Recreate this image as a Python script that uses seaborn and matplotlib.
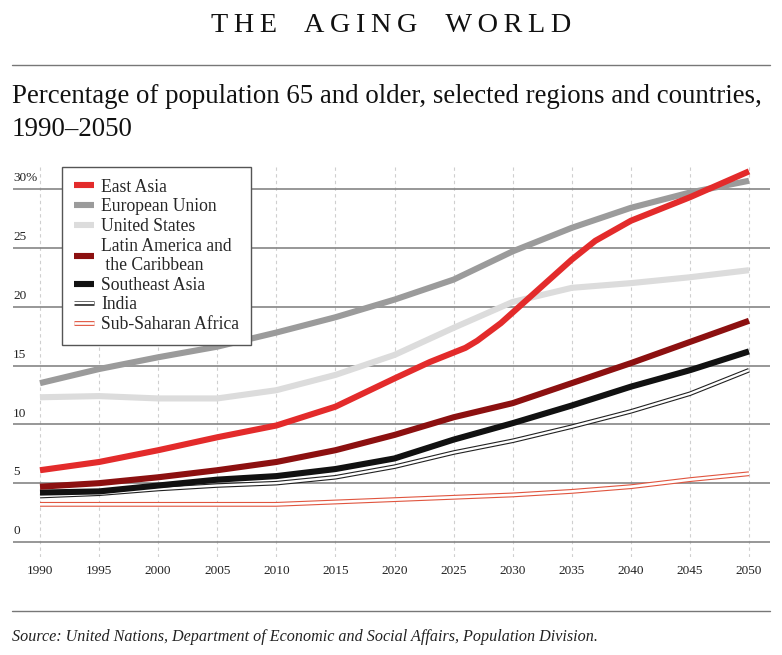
import matplotlib
matplotlib.use("Agg")
import matplotlib.pyplot as plt
import matplotlib.patheffects as pe
import seaborn as sns
import pandas as pd

# ---- data -------------------------------------------------------------
years = [1990, 1995, 2000, 2005, 2010, 2015, 2020, 2025, 2030, 2035, 2040, 2045, 2050]

east_asia_years = [1990, 1995, 2000, 2005, 2010, 2015, 2020, 2023, 2025, 2026, 2027,
                   2029, 2030, 2035, 2037, 2040, 2045, 2050]
east_asia = [6.1, 6.8, 7.8, 8.9, 9.9, 11.5, 13.9, 15.3, 16.1, 16.5, 17.1,
             18.6, 19.5, 24.0, 25.6, 27.3, 29.3, 31.5]

european_union = [13.5, 14.7, 15.7, 16.6, 17.8, 19.1, 20.6, 22.3, 24.7, 26.7, 28.4, 29.7, 30.7]
united_states = [12.3, 12.4, 12.2, 12.2, 12.9, 14.2, 15.9, 18.2, 20.4, 21.6, 22.0, 22.5, 23.1]
latin_america = [4.7, 5.0, 5.5, 6.1, 6.8, 7.8, 9.1, 10.6, 11.8, 13.5, 15.2, 17.0, 18.8]
southeast_asia = [4.2, 4.3, 4.8, 5.3, 5.6, 6.2, 7.1, 8.7, 10.1, 11.6, 13.2, 14.6, 16.2]
india = [3.9, 4.1, 4.5, 4.8, 5.0, 5.5, 6.4, 7.6, 8.6, 9.8, 11.1, 12.6, 14.6]
sub_saharan = [3.2, 3.2, 3.2, 3.2, 3.2, 3.4, 3.6, 3.8, 4.0, 4.3, 4.7, 5.3, 5.8]

x_tick_years = [1990, 1995, 2000, 2005, 2010, 2015, 2020, 2025, 2030, 2035, 2040, 2045, 2050]
y_ticks = [0, 5, 10, 15, 20, 25, 30]
y_tick_labels = ["0", "5", "10", "15", "20", "25", "30%"]

title = "THE AGING WORLD"
subtitle_1 = "Percentage of population 65 and older, selected regions and countries,"
subtitle_2 = "1990\u20132050"
source = "Source: United Nations, Department of Economic and Social Affairs, Population Division."

# ---- style ------------------------------------------------------------
sns.set_style("white")
plt.rcParams["font.family"] = ["Liberation Serif", "DejaVu Serif"]

W, H = 782, 655
fig = plt.figure(figsize=(W / 100, H / 100), dpi=100)
fig.patch.set_facecolor("white")

ax_l, ax_r, ax_t, ax_b = 13, 770, 165, 557
ax = fig.add_axes([ax_l / W, 1 - ax_b / H, (ax_r - ax_l) / W, (ax_b - ax_t) / H])

thick = 4.4
series = [
    ("East Asia", east_asia_years, east_asia, dict(color="#e32b2b", lw=thick), 10),
    ("European Union", years, european_union, dict(color="#9b9b9b", lw=thick), 8),
    ("United States", years, united_states, dict(color="#dcdcdc", lw=thick), 7),
    ("Latin America and\n the Caribbean", years, latin_america, dict(color="#8c1010", lw=thick), 6),
    ("Southeast Asia", years, southeast_asia, dict(color="#111111", lw=thick), 5),
    ("India", years, india,
     dict(color="white", lw=1.7, path_effects=[pe.Stroke(linewidth=3.3, foreground="#222222"), pe.Normal()]), 4),
    ("Sub-Saharan Africa", years, sub_saharan,
     dict(color="white", lw=1.9, path_effects=[pe.Stroke(linewidth=3.5, foreground="#e0553f"), pe.Normal()]), 3),
]

for label, xs, ys, kw, z in series:
    df = pd.DataFrame({"year": xs, "value": ys})
    sns.lineplot(data=df, x="year", y="value", ax=ax, label=label, zorder=z,
                 solid_capstyle="butt", **kw)

# axes limits: 1990 at px 40, 2050 at px 749; 0 at px 542, 30 at px 189
ppy = (749 - 40) / 60
ppv = (542 - 189) / 30
ax.set_xlim(1990 - (40 - ax_l) / ppy, 2050 + (ax_r - 749) / ppy)
ax.set_ylim(-(ax_b - 542) / ppv, (542 - ax_t) / ppv)

ax.set_xticks(x_tick_years)
ax.set_xticklabels([str(y) for y in x_tick_years], fontsize=9.5, color="#222222")
ax.set_yticks(y_ticks)
ax.set_yticklabels([])
ax.tick_params(axis="both", length=0)
ax.tick_params(axis="x", pad=6)
ax.set_xlabel("")
ax.set_ylabel("")
for s in ax.spines.values():
    s.set_visible(False)

ax.xaxis.grid(True, color="#cfcfcf", lw=0.8, ls=(0, (3, 3)))
ax.yaxis.grid(True, color="#858585", lw=1.2)
ax.set_axisbelow(True)

for v, lab in zip(y_ticks, y_tick_labels):
    ax.text(0.0, v + 0.4, lab, transform=ax.get_yaxis_transform(), ha="left", va="bottom",
            fontsize=9.5, color="#222222")

leg = ax.legend(loc="upper left", bbox_to_anchor=(62 / W, 1 - 167 / H),
                bbox_transform=fig.transFigure, borderaxespad=0, frameon=True,
                fancybox=False, framealpha=1, edgecolor="#555555", fontsize=12.7,
                handlelength=1.15, handletextpad=0.4, labelspacing=0.15,
                borderpad=0.66)
leg.get_frame().set_linewidth(1.0)
leg.set_zorder(20)

# ---- texts and rules --------------------------------------------------
spaced_title = "    ".join("\u2009".join(word) for word in title.split(" "))
fig.text(0.5, 1 - 32 / H, spaced_title, ha="center", va="baseline", fontsize=20.3, color="#111111")
fig.add_artist(plt.Line2D([12 / W, 770 / W], [1 - 65 / H, 1 - 65 / H], color="#777777", lw=1.0))
fig.text(12 / W, 1 - 103 / H, subtitle_1, ha="left", va="baseline", fontsize=19.4, color="#111111")
fig.text(12 / W, 1 - 136 / H, subtitle_2, ha="left", va="baseline", fontsize=19.4, color="#111111")
fig.add_artist(plt.Line2D([12 / W, 770 / W], [1 - 611 / H, 1 - 611 / H], color="#777777", lw=1.0))
fig.text(12 / W, 1 - 637 / H, source, ha="left", va="center", fontsize=11.6,
         style="italic", color="#222222")

fig.savefig("out.png", dpi=100, facecolor="white")
